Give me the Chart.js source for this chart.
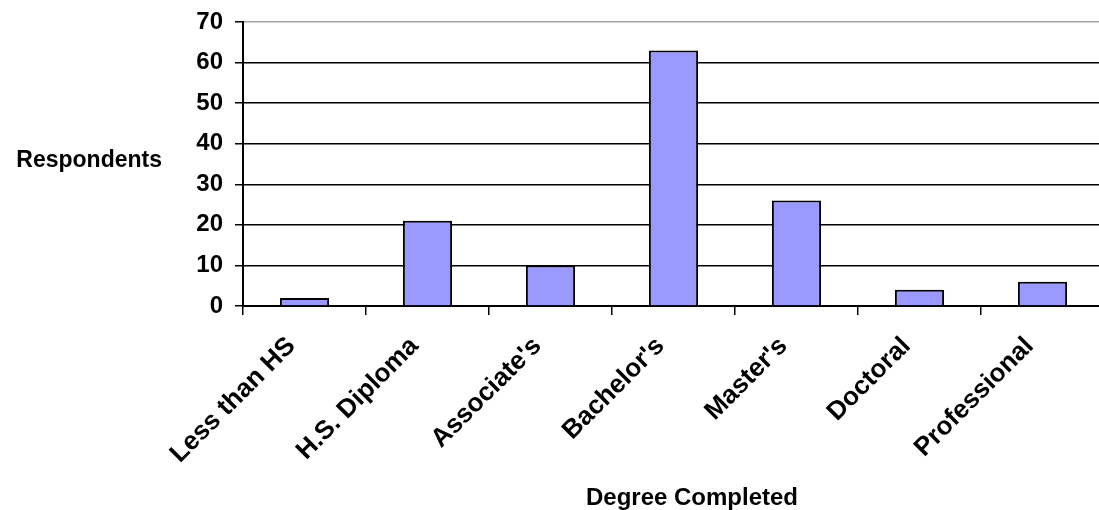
<!DOCTYPE html>
<html>
<head>
<meta charset="utf-8">
<title>Degree Completed</title>
<script src="https://cdn.jsdelivr.net/npm/chart.js@4/dist/chart.umd.min.js"></script>
<style>
  html, body { margin: 0; padding: 0; background: #ffffff; overflow: hidden; }
  #wrap { width: 1110px; height: 510px; }
  canvas { display: block; }
</style>
</head>
<body>
<div id="wrap"><canvas id="chart" width="1110" height="510"></canvas></div>
<script>
// Survey responses by highest degree completed
const categories = ["Less than HS", "H.S. Diploma", "Associate's", "Bachelor's", "Master's", "Doctoral", "Professional"];
const respondents = [2, 21, 10, 63, 26, 4, 6];
const yTickValues = [0, 10, 20, 30, 40, 50, 60, 70];
const xTitle = "Degree Completed";
const yTitle = "Respondents";

const FONT = '"Liberation Sans", Arial, Helvetica, sans-serif';

// Horizontal axis titles drawn on the canvas after the chart
const axisTitles = {
  id: 'axisTitles',
  afterDraw(chart) {
    const ctx = chart.ctx;
    const area = chart.chartArea;
    ctx.save();
    ctx.fillStyle = '#000';
    ctx.font = 'bold 23px ' + FONT;
    ctx.textAlign = 'right';
    ctx.textBaseline = 'alphabetic';
    ctx.fillText(yTitle, area.left - 81, 167);
    ctx.font = 'bold 24px ' + FONT;
    ctx.textAlign = 'center';
    ctx.fillText(xTitle, 692, 505);
    ctx.restore();
  }
};

const whiteBg = {
  id: 'whiteBg',
  beforeDraw(chart) {
    const ctx = chart.ctx;
    ctx.save();
    ctx.fillStyle = '#fff';
    ctx.fillRect(0, 0, chart.width, chart.height);
    ctx.restore();
  }
};

new Chart(document.getElementById('chart'), {
  type: 'bar',
  data: {
    labels: categories,
    datasets: [{
      label: yTitle,
      data: respondents,
      backgroundColor: '#9999FF',
      borderColor: '#000000',
      borderWidth: 2,
      barPercentage: 0.4,
      categoryPercentage: 1.0
    }]
  },
  options: {
    responsive: false,
    animation: false,
    devicePixelRatio: 1,
    layout: { padding: { left: 0, top: 22, right: 6, bottom: 0 } },
    plugins: {
      legend: { display: false },
      tooltip: { enabled: false }
    },
    scales: {
      x: {
        grid: {
          offset: true,
          drawOnChartArea: false,
          drawTicks: true,
          tickLength: 9,
          color: '#000',
          lineWidth: 1.5
        },
        border: { display: true, color: '#000', width: 2 },
        ticks: {
          autoSkip: false,
          minRotation: 45,
          maxRotation: 45,
          padding: 16,
          labelOffset: -13,
          color: '#000',
          font: { family: FONT, size: 26, weight: 'bold' }
        },
        afterFit(scale) {
          scale.height = 204;
          scale.paddingLeft = 0;
          scale.paddingRight = 0;
        }
      },
      y: {
        min: 0,
        max: 70,
        afterBuildTicks(scale) {
          scale.ticks = yTickValues.map(v => ({ value: v }));
        },
        grid: {
          color: ctx => (ctx.tick && ctx.tick.value === 70) ? '#a6a6a6' : '#000',
          tickColor: '#000',
          lineWidth: 1.5,
          tickLength: 8,
          drawTicks: true
        },
        border: { display: true, color: '#000', width: 2 },
        ticks: {
          padding: 12,
          color: '#000',
          font: { family: FONT, size: 24, weight: 'bold' }
        },
        afterFit(scale) {
          scale.width = 243;
          scale.paddingTop = 0;
          scale.paddingBottom = 0;
        }
      }
    }
  },
  plugins: [whiteBg, axisTitles]
});
</script>
</body>
</html>
